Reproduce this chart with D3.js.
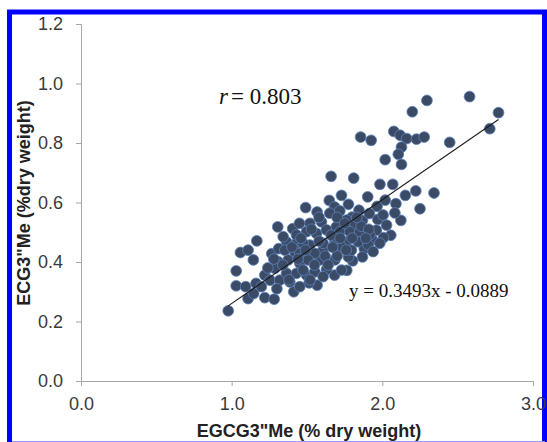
<!DOCTYPE html>
<html>
<head>
<meta charset="utf-8">
<script src="https://cdn.jsdelivr.net/npm/d3@7"></script>
<style>
  body { margin: 0; background: #fff; }
  svg { display: block; }
  .serif { font-family: "Liberation Serif", "DejaVu Serif", serif; }
  .sans { font-family: "Liberation Sans", Arial, sans-serif; }
</style>
</head>
<body>
<svg id="chart" width="547" height="442"></svg>
<script>
// EGCG3"Me (x) against ECG3"Me (y), % dry weight
let egcg = [
  0.977, 1.030, 1.030, 1.058, 1.109, 1.167, 1.144, 1.093, 1.109, 1.146,
  1.162, 1.220, 1.282, 1.220, 1.255, 1.197, 1.306, 1.266, 1.312, 1.405,
  1.412, 1.491, 1.567, 1.660, 1.810, 1.856, 1.926, 2.019, 1.984, 2.069,
  2.076, 2.118, 2.162, 2.227, 2.278, 2.127, 2.106, 2.127, 2.199, 2.296,
  2.579, 2.771, 2.713, 2.447, 2.343, 2.222, 2.153, 2.250, 2.123, 2.090,
  2.083, 2.056, 2.007, 1.961, 2.019, 1.965, 1.903, 1.970, 1.933, 1.880,
  1.868, 1.803, 1.775, 1.764, 1.683, 1.630, 1.567, 1.514, 1.729, 1.648,
  1.683, 1.775, 1.845, 1.799, 1.868, 1.914, 1.752, 1.694,
  1.364, 1.308, 1.319, 1.364, 1.452, 1.386, 1.430, 1.452, 1.375, 1.497,
  1.552, 1.585, 1.497, 1.419, 1.353, 1.519, 1.607, 1.286, 1.430,
  1.651, 1.718, 2.005, 1.519, 1.596, 1.762, 1.817, 2.028, 1.342, 1.430,
  1.497, 1.563, 1.629, 1.718, 1.784, 1.851, 1.917, 1.474, 1.607, 1.685,
  1.762, 1.839, 1.906, 1.983, 1.452, 1.552, 1.696, 1.795, 1.939, 1.507,
  1.685, 1.474, 1.729, 1.607,
  1.400, 1.460, 1.530, 1.580, 1.660, 1.730, 1.800, 1.860, 1.910, 1.550,
  1.620, 1.700, 1.760, 1.440, 1.340, 1.280, 1.240, 1.490, 1.580, 1.700,
  1.830, 1.640, 1.520, 1.380, 1.300, 1.450, 1.750, 1.890, 1.670, 1.720
]
let ecg = [
  0.236, 0.320, 0.370, 0.432, 0.440, 0.471, 0.407, 0.317, 0.277, 0.294,
  0.328, 0.280, 0.275, 0.356, 0.339, 0.317, 0.518, 0.428, 0.445, 0.512,
  0.300, 0.583, 0.568, 0.688, 0.682, 0.820, 0.809, 0.744, 0.661, 0.661,
  0.839, 0.826, 0.815, 0.813, 0.820, 0.786, 0.762, 0.728, 0.905, 0.943,
  0.956, 0.902, 0.848, 0.802, 0.632, 0.639, 0.624, 0.579, 0.540, 0.596,
  0.565, 0.490, 0.482, 0.507, 0.608, 0.587, 0.619, 0.543, 0.475, 0.445,
  0.417, 0.404, 0.417, 0.372, 0.356, 0.375, 0.322, 0.330, 0.624, 0.607,
  0.585, 0.594, 0.574, 0.551, 0.540, 0.563, 0.518, 0.518,
  0.468, 0.401, 0.339, 0.362, 0.317, 0.333, 0.362, 0.396, 0.407, 0.356,
  0.367, 0.407, 0.429, 0.435, 0.440, 0.457, 0.440, 0.379, 0.463,
  0.564, 0.572, 0.558, 0.530, 0.535, 0.541, 0.524, 0.524, 0.485, 0.491,
  0.502, 0.496, 0.508, 0.502, 0.502, 0.502, 0.491, 0.463, 0.463, 0.474,
  0.468, 0.468, 0.457, 0.463, 0.429, 0.429, 0.440, 0.440, 0.435, 0.407,
  0.407, 0.373, 0.373, 0.351,
  0.450, 0.480, 0.510, 0.470, 0.490, 0.450, 0.480, 0.520, 0.510, 0.390,
  0.420, 0.420, 0.440, 0.410, 0.390, 0.410, 0.380, 0.440, 0.550, 0.550,
  0.550, 0.390, 0.340, 0.340, 0.310, 0.530, 0.530, 0.480, 0.450, 0.480
]

let xTicks = [0, 1, 2, 3]
let yTicks = [0, 0.2, 0.4, 0.6, 0.8, 1.0, 1.2]
let slope = 0.3493,
    intercept = -0.0889,
    rValue = "0.803"

let margins = {left: 81, top: 24, right: 14, bottom: 61}
let width = 547, height = 442

function visualize() {
  let data = egcg.map((x, i) => ({x: x, y: ecg[i]}))
  let scales = make_scales()
  let svg = d3.select("#chart")

  draw_frame(svg)
  draw_axes(svg, scales)
  draw_points(svg, data, scales)
  draw_fit(svg, data, scales)
  annotate(svg)
}

function make_scales() {
  return {
    x: d3.scaleLinear().domain([0, 3]).range([margins.left, width - margins.right]),
    y: d3.scaleLinear().domain([0, 1.2]).range([height - margins.bottom, margins.top])
  }
}

function draw_frame(svg) {
  svg.append("rect")
    .attrs({x: 9.5, y: 12, width: 535, height: 436, fill: "none",
      stroke: "#0000ff", "stroke-width": 5})
  svg.append("line")
    .attrs({x1: 12, x2: 545, y1: 441.5, y2: 441.5, stroke: "#9a9aff", "stroke-width": 1})
}

function draw_axes(svg, scales) {
  let xAxis = d3.axisBottom(scales.x)
    .tickValues(xTicks).tickSize(5).tickPadding(11)
    .tickFormat(d3.format(".1f"))
  let yAxis = d3.axisLeft(scales.y)
    .tickValues(yTicks).tickSize(5).tickPadding(13)
    .tickFormat(d3.format(".1f"))

  let gx = svg.append("g")
    .attr("transform", `translate(0,${height - margins.bottom})`)
    .call(xAxis)
  let gy = svg.append("g")
    .attr("transform", `translate(${margins.left},0)`)
    .call(yAxis)

  for (let g of [gx, gy]) {
    g.attr("font-family", null).attr("font-size", null)
    g.select(".domain").attr("stroke", "#a6a6a6")
    g.selectAll(".tick line").attr("stroke", "#a6a6a6")
    g.selectAll(".tick text")
      .attr("class", "sans")
      .attr("fill", "#3a3a3a")
      .attr("font-size", 18)
  }

  svg.append("text")
    .attr("class", "sans")
    .attr("x", 309).attr("y", 437)
    .attr("text-anchor", "middle")
    .attr("font-size", 18).attr("font-weight", "bold")
    .attr("fill", "#222")
    .text("EGCG3\"Me (% dry weight)")

  svg.append("text")
    .attr("class", "sans")
    .attr("transform", "translate(30,203) rotate(-90)")
    .attr("text-anchor", "middle")
    .attr("font-size", 18).attr("font-weight", "bold")
    .attr("fill", "#222")
    .text("ECG3\"Me (%dry weight)")
}

function draw_points(svg, data, scales) {
  svg.append("g")
    .selectAll("circle")
    .data(data).enter()
    .append("circle")
    .attrs({
      cx: d => scales.x(d.x),
      cy: d => scales.y(d.y),
      r: 5.4,
      fill: "#3c4b65",
      stroke: "#5b82bd",
      "stroke-width": 0.8
    })
}

function draw_fit(svg, data, scales) {
  let ext = d3.extent(data, d => d.x)
  svg.append("line")
    .attrs({
      x1: scales.x(ext[0]), y1: scales.y(slope * ext[0] + intercept),
      x2: scales.x(ext[1]), y2: scales.y(slope * ext[1] + intercept),
      stroke: "#1a1a1a", "stroke-width": 1.1
    })
}

function annotate(svg) {
  // italic r, then the value as its own text
  let r = svg.append("text")
    .attr("class", "serif")
    .attr("x", 219).attr("y", 104)
    .attr("font-size", 23)
    .attr("font-style", "italic")
    .attr("fill", "#111")
    .text("r")
  let rw = r.node().getComputedTextLength()
  svg.append("text")
    .attr("class", "serif")
    .attr("x", 219 + rw + 3).attr("y", 104)
    .attr("font-size", 23)
    .attr("fill", "#111")
    .text("= " + rValue)

  svg.append("text")
    .attr("class", "serif")
    .attr("x", 349).attr("y", 297)
    .attr("font-size", 19)
    .attr("fill", "#111")
    .text(`y = ${slope}x - ${Math.abs(intercept)}`)
}

// d3 v7 has no .attrs, add a small helper
d3.selection.prototype.attrs = function(obj) {
  for (let k in obj) this.attr(k, obj[k])
  return this
}

visualize()
</script>
</body>
</html>
